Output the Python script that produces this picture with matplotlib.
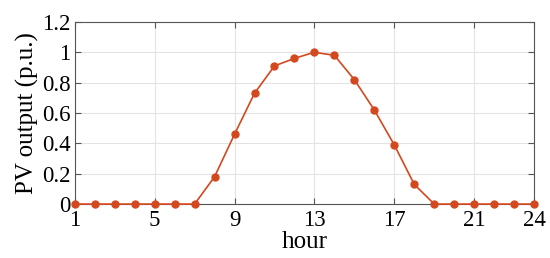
import matplotlib
matplotlib.use('Agg')
import matplotlib.pyplot as plt
from matplotlib.ticker import FuncFormatter

# hourly PV output (p.u.)
hours = list(range(1, 25))
pv = [0, 0, 0, 0, 0, 0, 0, 0.18, 0.46, 0.73, 0.91, 0.96,
      1.0, 0.98, 0.82, 0.62, 0.39, 0.13, 0, 0, 0, 0, 0, 0]
xticks = [1, 5, 9, 13, 17, 21, 24]
yticks = [0, 0.2, 0.4, 0.6, 0.8, 1.0, 1.2]

plt.rcParams['font.family'] = ['Liberation Serif', 'DejaVu Serif']

fig = plt.figure(figsize=(5.5, 2.58), dpi=100)
ax = fig.add_axes([0.136, 0.209, 0.835, 0.706])
ax.plot(hours, pv, '-o', color='#D4481E', lw=1.2, ms=5, clip_on=False, zorder=3)

ax.set_xlim(1, 24)
ax.set_ylim(0, 1.2)
ax.set_xticks(xticks)
ax.set_yticks(yticks)
ax.yaxis.set_major_formatter(FuncFormatter(lambda v, p: ('%.1f' % v).rstrip('0').rstrip('.')))
ax.grid(True, color='#e3e3e3', lw=0.8)
ax.set_axisbelow(True)
ax.tick_params(direction='in', top=True, right=True, labelsize=16.5, length=4,
               color='#555555', pad=3)
ax.tick_params(axis='x', pad=4)
for s in ax.spines.values():
    s.set_color('#555555')
    s.set_linewidth(0.8)
ax.set_xlabel('hour', fontsize=18, labelpad=0)
ax.set_ylabel('PV output (p.u.)', fontsize=18, labelpad=2)

fig.savefig('out.png', dpi=100)
